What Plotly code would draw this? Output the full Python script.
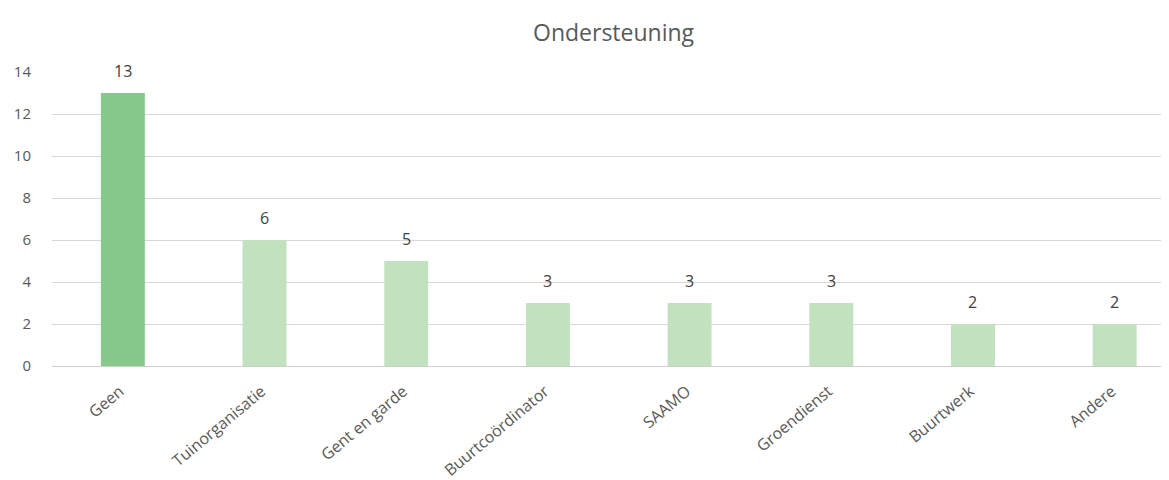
import plotly.graph_objects as go

categories = ["Geen", "Tuinorganisatie", "Gent en garde", "Buurtcoördinator",
              "SAAMO", "Groendienst", "Buurtwerk", "Andere"]
values = [13, 6, 5, 3, 3, 3, 2, 2]
bar_colors = ["#87c98a"] + ["#c2e2bf"] * 7
y_ticks = [0, 2, 4, 6, 8, 10, 12, 14]

fig = go.Figure(go.Bar(
    x=categories, y=values,
    marker=dict(color=bar_colors, line=dict(width=0)),
    width=0.31,
    cliponaxis=False,
    hoverinfo="x+y",
))

for c, v in zip(categories, values):
    fig.add_annotation(x=c, y=v, text=str(v), showarrow=False,
                       xanchor="center", yanchor="bottom", yshift=9,
                       font=dict(family="Open Sans", size=16, color="#404040"))

fig.update_layout(
    width=1169, height=480,
    margin=dict(l=44, r=0, t=64, b=122),
    paper_bgcolor="white", plot_bgcolor="white",
    title=dict(text="Ondersteuning", x=0.518, xanchor="center", y=0.948, yanchor="middle",
               font=dict(family="Open Sans", size=23, color="#595959")),
    font=dict(family="Open Sans", color="#595959"),
    showlegend=False,
)
fig.update_xaxes(
    range=[-0.5, 7.44], tickangle=-40, showgrid=False, showline=False,
    tickfont=dict(family="Open Sans", size=16, color="#595959"), ticks="",
    ticklabelshift=-3, ticklabelstandoff=12,
    automargin=False,
)
fig.update_yaxes(
    range=[0, 14], tickvals=y_ticks, showgrid=True, gridcolor="#dcd6d6", gridwidth=1,
    zeroline=True, zerolinecolor="#d0cccc", zerolinewidth=1,
    tickfont=dict(family="Open Sans", size=15, color="#595959"), ticks="",
    ticklabelstandoff=20, automargin=False,
)

fig.write_html("out.html")
